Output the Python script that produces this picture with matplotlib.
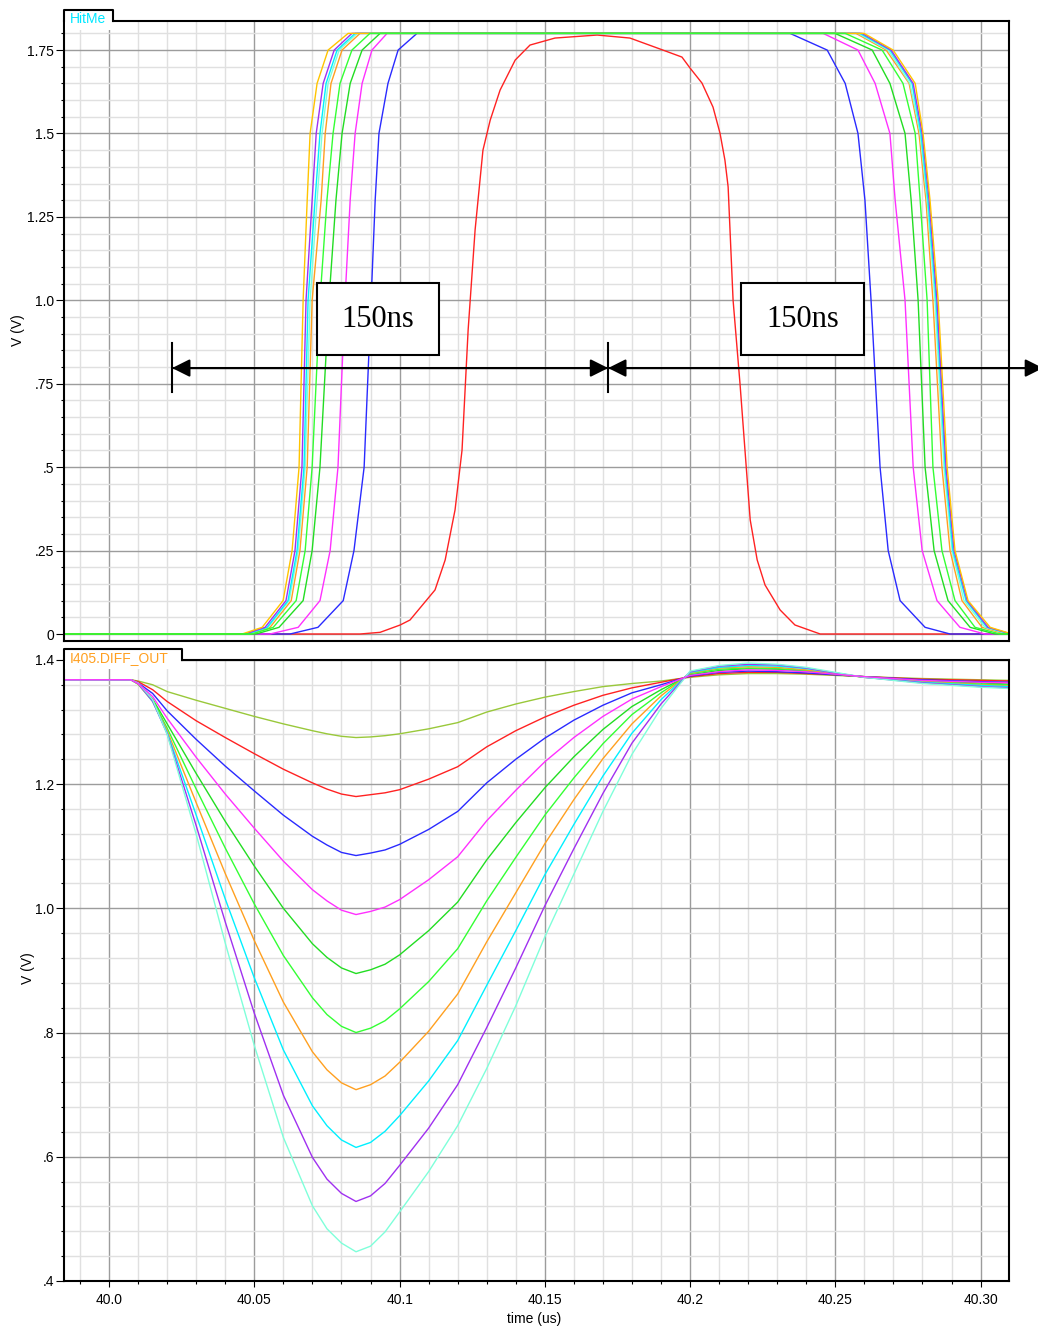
import numpy as np
import matplotlib.pyplot as plt
from matplotlib.patches import Rectangle
from matplotlib.ticker import FixedLocator, FixedFormatter

plt.rcParams['font.family'] = ['Liberation Sans', 'DejaVu Sans']

# ---- top panel (HitMe): edge crossing times, ns after 40 us ----
RISE_V = [0, 0.02, 0.1, 0.25, 0.5, 1.0, 1.3, 1.5, 1.65, 1.75, 1.8]
FALL_V = [1.8, 1.75, 1.65, 1.5, 1.3, 1.0, 0.5, 0.25, 0.1, 0.02, 0]

rise_yellow = [45.8, 52.7, 59.9, 63.0, 65.4, 66.8, 68.2, 69.2, 71.6, 75.4, 82.3]
fall_yellow = [259.9, 269.9, 277.5, 280.2, 282.6, 285.4, 288.5, 291.2, 295.7, 303.3, 310.8]
rise_purple = [46.8, 53.7, 60.9, 64.0, 66.4, 67.8, 69.9, 71.3, 73.7, 77.5, 83.6]
fall_purple = [259.2, 269.2, 276.8, 279.9, 282.3, 285.0, 288.1, 290.9, 295.4, 302.6, 310.5]
rise_cyan = [47.5, 54.4, 61.6, 64.7, 67.1, 68.5, 70.9, 72.6, 74.7, 78.5, 84.7]
fall_cyan = [258.5, 268.8, 276.4, 279.5, 281.9, 284.7, 287.8, 290.5, 295.0, 302.2, 310.2]
rise_aqua = [47.8, 54.7, 62.0, 65.1, 67.5, 69.2, 71.6, 73.3, 75.4, 79.2, 85.4]
fall_aqua = [257.8, 268.2, 275.7, 279.2, 281.6, 284.3, 287.4, 290.2, 294.3, 301.5, 309.5]
rise_orange = [48.5, 55.4, 62.7, 65.7, 68.2, 69.9, 73.0, 74.4, 76.4, 80.2, 86.4]
fall_orange = [257.1, 267.5, 275.4, 278.8, 281.2, 283.6, 286.7, 289.5, 293.6, 300.5, 308.4]
rise_green1 = [49.2, 56.5, 64.4, 67.5, 69.9, 72.6, 75.0, 77.1, 79.5, 83.6, 89.8]
fall_green1 = [253.4, 266.1, 273.3, 277.5, 279.2, 281.6, 283.6, 286.7, 291.2, 298.1, 306.7]
rise_green2 = [50.6, 58.5, 66.8, 69.9, 72.6, 75.7, 78.1, 80.2, 83.0, 87.1, 93.3]
fall_green2 = [249.9, 262.7, 268.8, 274.0, 276.1, 278.5, 280.9, 284.0, 288.8, 296.4, 305.0]
rise_magenta = [55.4, 65.1, 72.6, 76.1, 78.8, 81.2, 83.0, 84.7, 87.1, 90.5, 95.7]
fall_magenta = [245.8, 257.8, 263.7, 268.8, 270.6, 274.0, 276.8, 279.9, 285.0, 292.9, 301.5]
rise_blue = [62.3, 71.9, 80.6, 84.3, 87.8, 90.2, 91.6, 92.9, 96.0, 99.5, 106.0]
fall_blue = [234.4, 247.2, 253.4, 257.8, 260.2, 262.3, 265.4, 268.2, 272.3, 280.9, 289.5]

red_ns = [-20, 86.4, 93.3, 100.2, 103.6, 112.2, 115.7, 119.1, 121.5, 123.6, 126.0, 128.7,
          131.2, 134.6, 139.8, 144.9, 153.5, 168.0, 179.3, 189.7, 197.2, 200.0, 204.1,
          207.9, 210.3, 212.0, 213.1, 214.8, 217.2, 218.9, 220.7, 223.1, 225.8, 231.0,
          236.1, 244.8, 330]
red_v = [0, 0, 0.005, 0.027, 0.042, 0.132, 0.222, 0.372, 0.551, 0.911, 1.211, 1.450,
         1.540, 1.630, 1.720, 1.765, 1.786, 1.795, 1.786, 1.753, 1.729, 1.696, 1.651,
         1.579, 1.501, 1.420, 1.340, 1.001, 0.749, 0.551, 0.342, 0.222, 0.147, 0.072,
         0.027, 0, 0]

# ---- bottom panel (I405.DIFF_OUT) ----
T_BOT = [39.985, 40.0075, 40.01, 40.015, 40.02, 40.03, 40.04, 40.05, 40.06, 40.07, 40.075,
         40.08, 40.085, 40.09, 40.095, 40.10, 40.11, 40.12, 40.13, 40.14, 40.15, 40.16,
         40.17, 40.18, 40.19, 40.20, 40.21, 40.22, 40.23, 40.24, 40.25, 40.26, 40.28,
         40.30, 40.31]
d_ygreen = [1.368, 1.368, 1.366, 1.360, 1.349, 1.335, 1.322, 1.309, 1.297, 1.286, 1.281,
            1.277, 1.275, 1.276, 1.278, 1.281, 1.289, 1.299, 1.316, 1.329, 1.340, 1.349,
            1.357, 1.362, 1.366, 1.372, 1.376, 1.378, 1.378, 1.377, 1.375, 1.373, 1.370,
            1.368, 1.367]
d_red = [1.368, 1.368, 1.365, 1.352, 1.333, 1.302, 1.275, 1.249, 1.224, 1.202, 1.192,
         1.184, 1.180, 1.183, 1.186, 1.191, 1.208, 1.228, 1.260, 1.286, 1.308, 1.327,
         1.343, 1.355, 1.364, 1.373, 1.378, 1.380, 1.380, 1.378, 1.376, 1.373, 1.369,
         1.367, 1.366]
d_blue = [1.368, 1.368, 1.363, 1.346, 1.318, 1.272, 1.229, 1.189, 1.150, 1.116, 1.102,
          1.090, 1.085, 1.089, 1.094, 1.103, 1.127, 1.156, 1.202, 1.240, 1.274, 1.303,
          1.327, 1.347, 1.360, 1.374, 1.380, 1.382, 1.381, 1.379, 1.376, 1.373, 1.368,
          1.365, 1.364]
d_magenta = [1.368, 1.368, 1.362, 1.341, 1.306, 1.243, 1.184, 1.129, 1.076, 1.030, 1.012,
             0.997, 0.990, 0.995, 1.002, 1.014, 1.046, 1.083, 1.141, 1.190, 1.236, 1.275,
             1.309, 1.337, 1.357, 1.375, 1.381, 1.384, 1.383, 1.381, 1.377, 1.373, 1.367,
             1.364, 1.363]
d_green1 = [1.368, 1.368, 1.362, 1.337, 1.297, 1.217, 1.140, 1.068, 1.000, 0.943, 0.921,
            0.904, 0.895, 0.901, 0.910, 0.925, 0.964, 1.010, 1.078, 1.138, 1.194, 1.244,
            1.288, 1.325, 1.352, 1.376, 1.383, 1.386, 1.385, 1.382, 1.377, 1.373, 1.366,
            1.363, 1.361]
d_green2 = [1.368, 1.368, 1.361, 1.335, 1.290, 1.192, 1.097, 1.007, 0.924, 0.856, 0.829,
            0.810, 0.800, 0.807, 0.819, 0.838, 0.882, 0.935, 1.012, 1.082, 1.150, 1.210,
            1.265, 1.312, 1.347, 1.378, 1.385, 1.387, 1.386, 1.383, 1.378, 1.372, 1.366,
            1.361, 1.360]
d_orange = [1.368, 1.368, 1.361, 1.333, 1.286, 1.170, 1.056, 0.948, 0.849, 0.769, 0.740,
            0.719, 0.708, 0.716, 0.730, 0.752, 0.802, 0.862, 0.946, 1.025, 1.104, 1.175,
            1.241, 1.297, 1.342, 1.379, 1.387, 1.389, 1.388, 1.384, 1.378, 1.372, 1.365,
            1.360, 1.358]
d_cyan = [1.368, 1.368, 1.362, 1.333, 1.283, 1.150, 1.015, 0.888, 0.772, 0.682, 0.650,
          0.627, 0.615, 0.623, 0.641, 0.666, 0.722, 0.787, 0.876, 0.964, 1.054, 1.135,
          1.213, 1.282, 1.336, 1.380, 1.388, 1.391, 1.390, 1.386, 1.379, 1.372, 1.364,
          1.359, 1.357]
d_purple = [1.368, 1.368, 1.362, 1.334, 1.281, 1.133, 0.978, 0.831, 0.699, 0.599, 0.564,
            0.541, 0.528, 0.537, 0.557, 0.586, 0.646, 0.716, 0.808, 0.904, 1.004, 1.096,
            1.185, 1.266, 1.329, 1.381, 1.390, 1.393, 1.392, 1.387, 1.379, 1.372, 1.363,
            1.357, 1.355]
d_aqua = [1.368, 1.368, 1.363, 1.336, 1.280, 1.119, 0.944, 0.779, 0.631, 0.521, 0.484,
          0.461, 0.447, 0.456, 0.479, 0.511, 0.576, 0.650, 0.742, 0.843, 0.954, 1.055,
          1.156, 1.248, 1.322, 1.382, 1.391, 1.395, 1.393, 1.388, 1.380, 1.372, 1.362,
          1.356, 1.354]

C_YELLOW, C_PURPLE, C_CYAN, C_AQUA = '#FFC400', '#A030F0', '#00F0FF', '#7FFFDA'
C_ORANGE, C_GREEN1, C_GREEN2 = '#FFA020', '#22DD22', '#33FF33'
C_MAGENTA, C_BLUE, C_RED, C_YGREEN = '#FF30FF', '#2A2AFF', '#FF2222', '#99C83A'

XMAJ = [40.0, 40.05, 40.1, 40.15, 40.2, 40.25, 40.30]
XLAB = ['40.0', '40.05', '40.1', '40.15', '40.2', '40.25', '40.30']
XMIN, XMAX = 39.9845, 40.3098


def ns(v):
    return 40 + np.array(v) / 1000.0


fig = plt.figure(figsize=(10.38, 13.31), dpi=100)
ax1 = fig.add_axes([0.0617, 0.5184, 0.9104, 0.4658])
ax2 = fig.add_axes([0.0617, 0.0376, 0.9104, 0.4666])

for ax in (ax1, ax2):
    ax.set_xlim(XMIN, XMAX)
    ax.xaxis.set_major_locator(FixedLocator(XMAJ))
    ax.xaxis.set_minor_locator(FixedLocator(np.round(np.arange(39.99, 40.31, 0.01), 3)))
    ax.grid(which='major', color='#9c9c9c', lw=1.0)
    ax.grid(which='minor', color='#e0e0e0', lw=1.0)
    ax.set_axisbelow(True)
    for s in ax.spines.values():
        s.set_linewidth(1.5)
    ax.tick_params(axis='y', which='major', length=6, width=0.8, pad=1, labelsize=10)
    ax.tick_params(axis='y', which='minor', length=2.5, width=0.8)

# top panel
ax1.set_ylim(-0.021, 1.837)
ax1.yaxis.set_major_locator(FixedLocator([0, 0.25, 0.5, 0.75, 1.0, 1.25, 1.5, 1.75]))
ax1.yaxis.set_major_formatter(FixedFormatter(['0', '.25', '.5', '.75', '1.0', '1.25', '1.5', '1.75']))
ax1.yaxis.set_minor_locator(FixedLocator(np.round(np.arange(0.05, 1.85, 0.05), 2)))
ax1.tick_params(axis='x', which='both', length=0, labelbottom=False)

ax1.plot(ns(red_ns), red_v, color=C_RED, lw=1)
top_curves = [(rise_blue, fall_blue, C_BLUE), (rise_magenta, fall_magenta, C_MAGENTA),
              (rise_orange, fall_orange, C_ORANGE), (rise_aqua, fall_aqua, C_AQUA),
              (rise_cyan, fall_cyan, C_CYAN), (rise_purple, fall_purple, C_PURPLE),
              (rise_yellow, fall_yellow, C_YELLOW), (rise_green2, fall_green2, C_GREEN1),
              (rise_green1, fall_green1, C_GREEN2)]
for rise, fall, col in top_curves:
    ax1.plot(ns([-20] + rise + fall + [330]), [0] + RISE_V + FALL_V + [0], color=col, lw=1)

# 150ns annotations
for x0, x1 in [(40.0716, 40.1136), (40.2176, 40.2599)]:
    ax1.add_patch(Rectangle((x0, 0.836), x1 - x0, 0.216, facecolor='white',
                            edgecolor='black', lw=1.5, zorder=5))
    ax1.text((x0 + x1) / 2, 0.944, '150ns', family='Liberation Serif', fontsize=22,
             ha='center', va='center', zorder=6)
arrow = dict(arrowstyle='-|>', color='black', lw=1.5, mutation_scale=27, shrinkA=0, shrinkB=0)
for a, b in [(40.0217, 40.1718), (40.1718, 40.0217), (40.1718, 40.3215), (40.3215, 40.1718)]:
    ax1.annotate('', xy=(a, 0.797), xytext=(b, 0.797), arrowprops=arrow,
                 annotation_clip=False, zorder=6)
for xb in (40.0217, 40.1718):
    ax1.plot([xb, xb], [0.725, 0.872], color='black', lw=1.5, zorder=6)

# bottom panel
ax2.set_ylim(0.4, 1.4)
ax2.yaxis.set_major_locator(FixedLocator([0.4, 0.6, 0.8, 1.0, 1.2, 1.4]))
ax2.yaxis.set_major_formatter(FixedFormatter(['.4', '.6', '.8', '1.0', '1.2', '1.4']))
ax2.yaxis.set_minor_locator(FixedLocator(np.round(np.arange(0.44, 1.4, 0.04), 2)))
ax2.xaxis.set_major_formatter(FixedFormatter(XLAB))
ax2.tick_params(axis='x', which='major', length=4.5, width=0.8, pad=4, labelsize=10)
ax2.tick_params(axis='x', which='minor', length=2.2, width=0.8)

bot_curves = [(d_ygreen, C_YGREEN), (d_red, C_RED), (d_blue, C_BLUE), (d_green1, C_GREEN1),
              (d_green2, C_GREEN2), (d_orange, C_ORANGE), (d_cyan, C_CYAN),
              (d_purple, C_PURPLE), (d_aqua, C_AQUA), (d_magenta, C_MAGENTA)]
for vals, col in bot_curves:
    ax2.plot(T_BOT, vals, color=col, lw=1)

# signal name tabs: the top border is open under the tab
for ax, w, name, col in [(ax1, 0.0519, 'HitMe', '#00E8FF'),
                         (ax2, 0.1249, 'I405.DIFF_OUT', '#FFA020')]:
    ax.spines['top'].set_bounds(XMIN + w * (XMAX - XMIN), XMAX)
    ax.add_patch(Rectangle((0.0015, 0.985), w - 0.003, 0.0325, transform=ax.transAxes,
                           facecolor='white', edgecolor='none', zorder=8, clip_on=False))
    ax.plot([0, 0, w, w], [1, 1.0177, 1.0177, 1], transform=ax.transAxes, color='black',
            lw=1.5, clip_on=False, zorder=9)
    ax.text(0.0063, 1.003, name, transform=ax.transAxes, color=col, fontsize=10,
            ha='left', va='center', zorder=10)

fig.text(0.0173, 0.7521, 'V (V)', rotation=90, ha='center', va='center', fontsize=10)
fig.text(0.0270, 0.2727, 'V (V)', rotation=90, ha='center', va='center', fontsize=10)
fig.text(0.5145, 0.0090, 'time (us)', ha='center', va='center', fontsize=10)

fig.savefig('out.png', dpi=100)
